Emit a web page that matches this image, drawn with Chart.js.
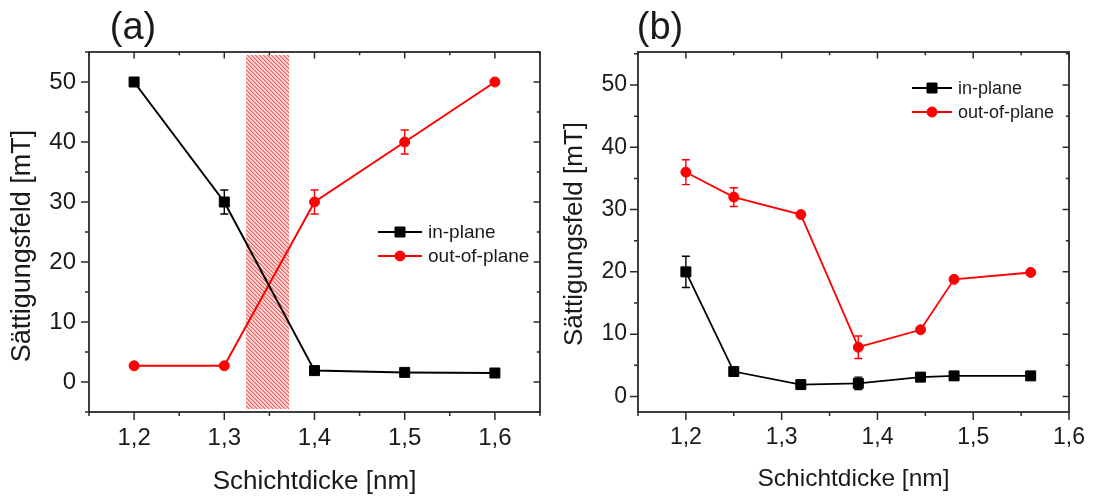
<!DOCTYPE html>
<html>
<head>
<meta charset="utf-8">
<script src="https://cdn.jsdelivr.net/npm/chart.js@4.4.1/dist/chart.umd.min.js"></script>
<style>
  html, body { margin: 0; padding: 0; background: #fff; overflow: hidden; }
  #wrap { position: relative; width: 1097px; height: 497px; }
  canvas { position: absolute; top: 0; }
</style>
</head>
<body>
<div id="wrap">
  <canvas id="chartA" width="560" height="497" style="left:0px"></canvas>
  <canvas id="chartB" width="537" height="497" style="left:560px"></canvas>
</div>
<script>
//---------------- data : panel (a) ----------------//
var thickA = [1.2, 1.3, 1.4, 1.5, 1.6];
var inPlaneA = [50, 30, 1.9, 1.6, 1.5];
var inPlaneErrA = [0, 2, 0, 0, 0];
var outPlaneA = [2.7, 2.7, 30, 40, 50];
var outPlaneErrA = [0, 0, 2, 2, 0];
var bandX = [1.324, 1.372];   // shaded transition region
var bandY = [-4.5, 54.5];

//---------------- data : panel (b) ----------------//
var thickB = [1.2, 1.25, 1.32, 1.38, 1.445, 1.48, 1.56];
var inPlaneB = [20, 4, 1.9, 2.1, 3.1, 3.3, 3.3];
var inPlaneErrB = [2.5, 0, 0, 1, 0, 0, 0];
var outPlaneB = [36, 32, 29.2, 7.9, 10.7, 18.8, 19.9];
var outPlaneErrB = [2, 1.5, 0, 1.8, 0, 0, 0];

//---------------- ticks / labels ----------------//
var xTickValues = [1.2, 1.3, 1.4, 1.5, 1.6];
var yTickValues = [0, 10, 20, 30, 40, 50];
var seriesNames = ["in-plane", "out-of-plane"];
var xTitle = "Schichtdicke [nm]";
var yTitle = "Sättigungsfeld [mT]";

var FONT = '"Liberation Sans", Arial, sans-serif';
var TEXT = "#1a1a1a";

function toPoints(xs, ys) {
  var out = [];
  for (var i = 0; i < xs.length; i++) out.push({ x: xs[i], y: ys[i] });
  return out;
}

// hatch pattern for the shaded band
function makeHatch() {
  var c = document.createElement("canvas");
  c.width = 4; c.height = 4;
  var g = c.getContext("2d");
  g.fillStyle = "rgb(255,214,214)";
  g.fillRect(0, 0, 4, 4);
  for (var i = 0; i < 4; i++) {
    g.fillStyle = "rgb(238,104,104)";
    g.fillRect(i, i, 1, 1);
    g.fillStyle = "rgb(247,160,160)";
    g.fillRect((i + 1) % 4, i, 1, 1);
  }
  return g.createPattern(c, "repeat");
}

// minor tick positions halfway between the majors, inside the axis range
function minorTicks(majors, min, max) {
  var step = majors[1] - majors[0], out = [];
  for (var v = majors[0] - step / 2; v >= min - 1e-9; v -= step) out.push(v);
  for (var i = 0; i < majors.length; i++) {
    var m = majors[i] + step / 2;
    if (m <= max + 1e-9) out.push(m);
  }
  return out;
}

function drawMarker(ctx, style, x, y, color) {
  ctx.fillStyle = color;
  ctx.strokeStyle = color;
  ctx.lineWidth = 1;
  ctx.beginPath();
  if (style === "rect") ctx.rect(x - 5, y - 5, 10, 10);
  else ctx.arc(x, y, 5, 0, Math.PI * 2);
  ctx.fill();
  ctx.stroke();
}

function decoPlugin(cfg) {
  return {
    id: "deco",
    beforeDatasetsDraw: function (chart) {
      var ctx = chart.ctx, xs = chart.scales.x, ys = chart.scales.y;
      ctx.save();
      // shaded band
      if (cfg.band) {
        var x0 = xs.getPixelForValue(cfg.band[0]), x1 = xs.getPixelForValue(cfg.band[1]);
        var y0 = ys.getPixelForValue(cfg.bandY[1]), y1 = ys.getPixelForValue(cfg.bandY[0]);
        ctx.fillStyle = makeHatch();
        ctx.fillRect(x0, y0, x1 - x0, y1 - y0);
      }
      // error bars
      chart.data.datasets.forEach(function (ds) {
        if (!ds.errors) return;
        ctx.strokeStyle = ds.borderColor;
        ctx.lineWidth = 1.4;
        ds.data.forEach(function (p, i) {
          var e = ds.errors[i];
          if (!e) return;
          var px = xs.getPixelForValue(p.x);
          var pt = ys.getPixelForValue(p.y + e), pb = ys.getPixelForValue(p.y - e);
          ctx.beginPath();
          ctx.moveTo(px, pt); ctx.lineTo(px, pb);
          ctx.moveTo(px - 4, pt); ctx.lineTo(px + 4, pt);
          ctx.moveTo(px - 4, pb); ctx.lineTo(px + 4, pb);
          ctx.stroke();
        });
      });
      ctx.restore();
    },
    afterDraw: function (chart) {
      var ctx = chart.ctx, a = chart.chartArea, xs = chart.scales.x, ys = chart.scales.y;
      ctx.save();
      // frame
      ctx.strokeStyle = "#2a2a2a";
      ctx.lineWidth = 1.8;
      ctx.strokeRect(a.left, a.top, a.right - a.left, a.bottom - a.top);
      // ticks: outward on bottom/left, mirrored inward on top/right
      ctx.lineWidth = 1.5;
      ctx.beginPath();
      function xTick(v, len) {
        var px = xs.getPixelForValue(v);
        ctx.moveTo(px, a.bottom); ctx.lineTo(px, a.bottom + len);
        ctx.moveTo(px, a.top); ctx.lineTo(px, a.top + len * 0.8);
      }
      function yTick(v, len) {
        var py = ys.getPixelForValue(v);
        ctx.moveTo(a.left - len, py); ctx.lineTo(a.left, py);
        ctx.moveTo(a.right - len * 0.8, py); ctx.lineTo(a.right, py);
      }
      xTickValues.forEach(function (v) { xTick(v, 8); });
      minorTicks(xTickValues, xs.min, xs.max).forEach(function (v) { xTick(v, 4); });
      yTickValues.forEach(function (v) { yTick(v, 8); });
      minorTicks(yTickValues, ys.min, ys.max).forEach(function (v) { yTick(v, 4); });
      ctx.stroke();

      // legend
      chart.data.datasets.forEach(function (ds, i) {
        var ly = cfg.legendY[i];
        ctx.strokeStyle = ds.borderColor;
        ctx.lineWidth = ds.borderWidth;
        ctx.beginPath();
        ctx.moveTo(cfg.legendX[0], ly); ctx.lineTo(cfg.legendX[1], ly);
        ctx.stroke();
        drawMarker(ctx, ds.pointStyle, (cfg.legendX[0] + cfg.legendX[1]) / 2, ly, ds.borderColor);
        ctx.fillStyle = TEXT;
        ctx.font = cfg.legendSize + "px " + FONT;
        ctx.textAlign = "left";
        ctx.textBaseline = "middle";
        ctx.fillText(ds.label, cfg.legendX[2], ly + 1);
      });

      // axis titles
      ctx.fillStyle = TEXT;
      ctx.textAlign = "center";
      ctx.textBaseline = "middle";
      ctx.font = cfg.xTitleSize + "px " + FONT;
      ctx.fillText(xTitle, (a.left + a.right) / 2, cfg.xTitleY);
      ctx.save();
      ctx.translate(cfg.yTitleX, cfg.yTitleY);
      ctx.rotate(-Math.PI / 2);
      ctx.font = cfg.yTitleSize + "px " + FONT;
      ctx.fillText(yTitle, 0, 0);
      ctx.restore();

      // panel label
      ctx.font = "38px " + FONT;
      ctx.fillText(cfg.label, cfg.labelX, 29);
      ctx.restore();
    }
  };
}

function makeChart(id, cfg) {
  var ctx = document.getElementById(id);
  return new Chart(ctx, {
    type: "line",
    data: {
      datasets: [
        {
          label: seriesNames[0],
          data: toPoints(cfg.xs, cfg.inPlane),
          errors: cfg.inErr,
          borderColor: "#000000",
          backgroundColor: "#000000",
          borderWidth: cfg.lineWidth,
          pointStyle: "rect",
          pointRadius: 7.07,
          pointBorderWidth: 1
        },
        {
          label: seriesNames[1],
          data: toPoints(cfg.xs, cfg.outPlane),
          errors: cfg.outErr,
          borderColor: "#ff0000",
          backgroundColor: "#ff0000",
          borderWidth: cfg.lineWidth,
          pointStyle: "circle",
          pointRadius: 5,
          pointBorderWidth: 1
        }
      ]
    },
    options: {
      responsive: false,
      animation: false,
      devicePixelRatio: 1,
      layout: { padding: { left: 0, top: 52, right: cfg.padRight, bottom: 0 } },
      plugins: { legend: { display: false }, tooltip: { enabled: false } },
      scales: {
        x: {
          type: "linear",
          min: 1.15,
          max: cfg.xMax,
          grid: { display: false, drawTicks: false },
          border: { display: false },
          afterBuildTicks: function (s) { s.ticks = xTickValues.map(function (v) { return { value: v }; }); },
          afterFit: function (s) { s.height = 85; },
          ticks: {
            padding: 12,
            color: TEXT,
            font: { family: FONT, size: cfg.tickSize },
            callback: function (v) { return v.toFixed(1).replace(".", ","); }
          }
        },
        y: {
          min: cfg.yMin,
          max: cfg.yMax,
          grid: { display: false, drawTicks: false },
          border: { display: false },
          afterBuildTicks: function (s) { s.ticks = yTickValues.map(function (v) { return { value: v }; }); },
          afterFit: function (s) { s.width = cfg.left; },
          ticks: {
            padding: cfg.yPad,
            color: TEXT,
            font: { family: FONT, size: cfg.tickSize },
            callback: function (v) { return String(v); }
          }
        }
      }
    },
    plugins: [decoPlugin(cfg)]
  });
}

//---------------- panel (a) ----------------//
makeChart("chartA", {
  xs: thickA, inPlane: inPlaneA, inErr: inPlaneErrA, outPlane: outPlaneA, outErr: outPlaneErrA,
  band: bandX, bandY: bandY,
  xMax: 1.65, yMin: -5, yMax: 55,
  left: 89, padRight: 20, yPad: 13, tickSize: 24, lineWidth: 2,
  legendX: [378, 422, 428], legendY: [232, 256], legendSize: 19,
  xTitleSize: 26, xTitleY: 482, yTitleSize: 27, yTitleX: 23, yTitleY: 246,
  label: "(a)", labelX: 133
});

//---------------- panel (b) ----------------//
makeChart("chartB", {
  xs: thickB, inPlane: inPlaneB, inErr: inPlaneErrB, outPlane: outPlaneB, outErr: outPlaneErrB,
  band: null,
  xMax: 1.6, yMin: -2.5, yMax: 55.3,
  left: 78, padRight: 22, yPad: 11, tickSize: 23, lineWidth: 1.8,
  legendX: [352, 392, 398], legendY: [88, 112], legendSize: 18,
  xTitleSize: 24.5, xTitleY: 479, yTitleSize: 26, yTitleX: 15, yTitleY: 234,
  label: "(b)", labelX: 100
});
</script>
</body>
</html>
